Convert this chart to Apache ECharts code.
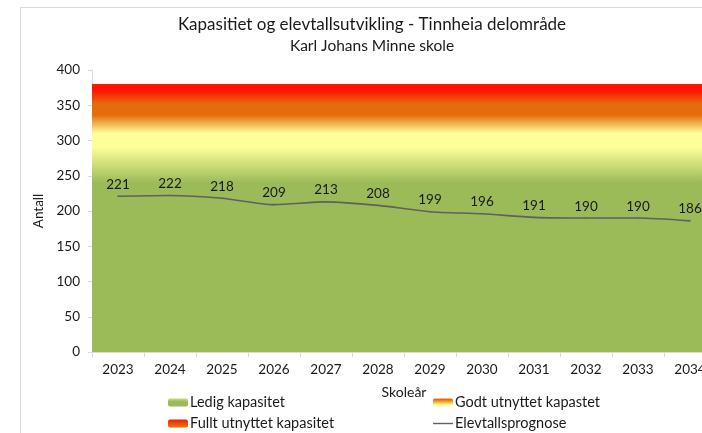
<!DOCTYPE html>
<html>
<head>
<meta charset="utf-8">
<script src="https://cdn.jsdelivr.net/npm/echarts@6/dist/echarts.min.js"></script>
<style>html,body{margin:0;padding:0;background:#fff;}#c{width:702px;height:433px;}</style>
</head>
<body>
<div id="c"></div>
<script>
var years = ['2023','2024','2025','2026','2027','2028','2029','2030','2031','2032','2033','2034'];
var elevtall = [221, 222, 218, 209, 213, 208, 199, 196, 191, 190, 190, 186];
// capacity thresholds (upper limit of each zone)
var ledig = [300, 300, 300, 300, 300, 300, 300, 300, 300, 300, 300, 300];
var godt = [340, 340, 340, 340, 340, 340, 340, 340, 340, 340, 340, 340];
var fullt = [380, 380, 380, 380, 380, 380, 380, 380, 380, 380, 380, 380];
var yTicks = [0, 50, 100, 150, 200, 250, 300, 350, 400];

var FONT = 'Lato';
var GREEN = '#9BBB59', YELLOW = '#FFFF99', ORANGE = '#E46C0A', RED = '#FF1500';
function grad(stops) {
  return new echarts.graphic.LinearGradient(0, 1, 0, 0, stops.map(function (s) { return { offset: s[0], color: s[1] }; }));
}
var BAR = { type: 'bar', barWidth: 56, barGap: '-100%', silent: true, clip: true };
var legendText = { fontFamily: FONT, fontSize: 14.5, color: '#1a1a1a', padding: [0, 0, 0, -3] };

var chart = echarts.init(document.getElementById('c'), null, { renderer: 'canvas' });
chart.setOption({
  animation: false,
  backgroundColor: '#fff',
  textStyle: { fontFamily: FONT },
  graphic: [{
    type: 'rect', silent: true, z: -10,
    shape: { x: 20.5, y: 7.5, width: 720, height: 460 },
    style: { fill: 'none', stroke: '#D9D9D9', lineWidth: 1 }
  }],
  title: {
    text: '{a|Kapasitiet og elevtallsutvikling - Tinnheia delområde}\n{b|Karl Johans Minne skole}',
    left: 367, top: 9, textAlign: 'center',
    textStyle: { fontFamily: FONT, fontWeight: 'normal', color: '#1a1a1a',
      rich: {
        a: { fontFamily: FONT, fontSize: 17, color: '#1a1a1a', lineHeight: 21, align: 'center' },
        b: { fontFamily: FONT, fontSize: 15.5, color: '#1a1a1a', lineHeight: 21, align: 'center' }
      } }
  },
  legend: [{
    left: 168, top: 395, orient: 'vertical', padding: 0, itemGap: 6,
    itemWidth: 20, itemHeight: 8, textStyle: legendText,
    data: [
      { name: 'Ledig kapasitet', itemStyle: { color: grad([[0, GREEN], [0.6, GREEN], [1, '#C8DA80']]) } },
      { name: 'Fullt utnyttet kapasitet', itemStyle: { color: grad([[0, ORANGE], [0.2, ORANGE], [1, RED]]) } }
    ]
  }, {
    left: 433, top: 395, orient: 'vertical', padding: 0, itemGap: 6,
    itemWidth: 20, itemHeight: 8, textStyle: legendText,
    data: [
      { name: 'Godt utnyttet kapastet', itemStyle: { color: grad([[0, YELLOW], [0.2, YELLOW], [0.85, ORANGE], [1, ORANGE]]) } },
      { name: 'Elevtallsprognose', icon: 'path://M0,0H20V1.4H0Z', itemStyle: { color: '#5F5F66' } }
    ]
  }],
  grid: { left: 92, top: 70, width: 624, height: 282, containLabel: false, outerBoundsMode: 'none' },
  xAxis: {
    type: 'category', data: years, boundaryGap: true,
    name: 'Skoleår', nameLocation: 'middle', nameGap: 33,
    nameTextStyle: { fontFamily: FONT, fontSize: 14, color: '#1a1a1a' },
    axisLine: { show: true, lineStyle: { color: '#D9D9D9', width: 1 } },
    axisTick: { show: true, length: 5, alignWithLabel: false, lineStyle: { color: '#D9D9D9' } },
    axisLabel: { fontFamily: FONT, fontSize: 13.5, color: '#1a1a1a', margin: 11, interval: 0 },
    splitLine: { show: false }
  },
  yAxis: {
    type: 'value', min: 0, max: 400, interval: 50,
    name: 'Antall', nameLocation: 'middle', nameGap: 42, nameRotate: 90,
    nameTextStyle: { fontFamily: FONT, fontSize: 13.5, color: '#1a1a1a' },
    axisLine: { show: true, lineStyle: { color: '#D9D9D9', width: 1 } },
    axisTick: { show: true, length: 4, lineStyle: { color: '#D9D9D9' } },
    axisLabel: { fontFamily: FONT, fontSize: 13.5, color: '#1a1a1a', margin: 12,
      formatter: function (v) { return yTicks.indexOf(v) >= 0 ? String(v) : ''; } },
    splitLine: { show: false }
  },
  series: [Object.assign({}, BAR, {
    name: 'Fullt utnyttet kapasitet', data: fullt,
    itemStyle: { color: grad([[0, ORANGE], [0.926, ORANGE], [0.975, RED], [1, RED]]) }
  }), Object.assign({}, BAR, {
    name: 'Godt utnyttet kapastet', data: godt,
    itemStyle: { color: grad([[0, YELLOW], [0.912, YELLOW], [0.99, ORANGE], [1, ORANGE]]) }
  }), Object.assign({}, BAR, {
    name: 'Ledig kapasitet', data: ledig,
    itemStyle: { color: grad([[0, GREEN], [0.8, GREEN], [0.97, YELLOW], [1, YELLOW]]) }
  }), {
    name: 'Elevtallsprognose', type: 'line', data: elevtall, z: 5,
    smooth: 0.25, symbol: 'circle', symbolSize: 1.5, showSymbol: true,
    itemStyle: { color: '#5F5F66' },
    lineStyle: { color: '#5F5F66', width: 1.6 },
    label: { show: true, position: 'top', distance: 4, fontFamily: FONT, fontSize: 13.5, color: '#1a1a1a' },
    silent: true
  }]
});
</script>
</body>
</html>
